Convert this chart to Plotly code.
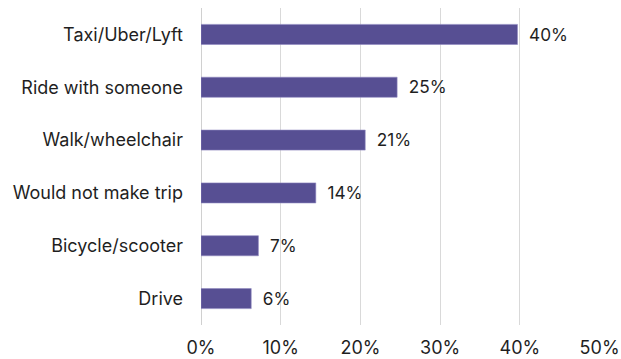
import plotly.graph_objects as go

# Alternative travel mode shares (top to bottom)
modes = ["Taxi/Uber/Lyft", "Ride with someone", "Walk/wheelchair",
         "Would not make trip", "Bicycle/scooter", "Drive"]
shares = [0.397, 0.246, 0.206, 0.144, 0.072, 0.063]
tick_vals = [0, 0.1, 0.2, 0.3, 0.4, 0.5]
tick_text = ["0%", "10%", "20%", "30%", "40%", "50%"]

FONT = "Inter"
SIZE = 18
INK = "#1f1f1f"
BAR = "#574F93"

fig = go.Figure(go.Bar(
    y=modes,
    x=shares,
    orientation="h",
    marker=dict(color=BAR, line=dict(color="#8F88C0", width=0.6)),
    text=["\u2002" + f"{v:.0%}" for v in shares],
    textposition="outside",
    textfont=dict(family=FONT, size=SIZE, color=INK),
    cliponaxis=False,
))

fig.update_layout(
    width=621, height=359,
    margin=dict(l=201, r=21, t=8, b=34),
    paper_bgcolor="white", plot_bgcolor="white",
    bargap=0.62,
    showlegend=False,
    font=dict(family=FONT, size=SIZE, color=INK),
)
fig.update_xaxes(
    range=[0, 0.5005], tickvals=tick_vals, ticktext=tick_text,
    showgrid=True, gridcolor="#D9D9D9", gridwidth=1,
    zeroline=True, zerolinecolor="#D0D0D0", zerolinewidth=1,
    showline=False, ticks="", ticklen=0,
    ticklabelstandoff=10, automargin=False,
    tickfont=dict(family=FONT, size=SIZE, color=INK),
)
fig.update_yaxes(
    autorange="reversed", showgrid=False, showline=False, ticks="",
    ticklabelstandoff=17, automargin=False,
    tickfont=dict(family=FONT, size=SIZE, color=INK),
)

fig.write_html("out.html")
